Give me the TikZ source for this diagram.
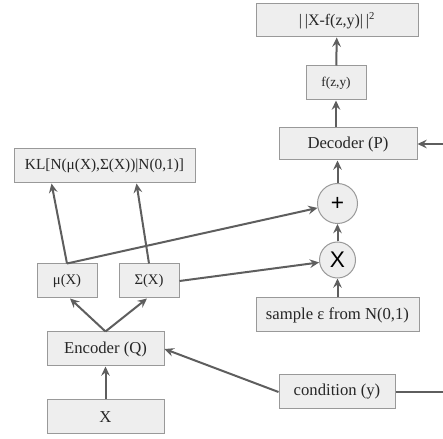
\documentclass[tikz,border=0pt]{standalone}
\usepackage{fontspec}
\setmainfont{Liberation Serif}
\newfontfamily\opfont{Liberation Sans}
\usetikzlibrary{arrows.meta,calc}
\definecolor{boxfill}{HTML}{EEEEEE}
\definecolor{boxline}{HTML}{999999}
\definecolor{arrowgray}{HTML}{5E5E5E}
\tikzset{
  blockbox/.style={rectangle,draw=boxline,fill=boxfill,line width=0.75pt,inner sep=0pt,minimum height=25.5pt,text=black!85,font=\fontsize{12.5}{14}\selectfont},
  smallbox/.style={blockbox,font=\fontsize{11}{13}\selectfont},
  opcircle/.style={circle,draw=boxline,fill=boxfill,line width=0.75pt,inner sep=0pt,font=\opfont\fontsize{17}{18}\selectfont},
  link/.style={draw=arrowgray,line width=1.5pt,-{Stealth[length=7pt,width=6.5pt,inset=2.5pt]}},
  nolink/.style={draw=arrowgray,line width=1.5pt}
}
\begin{document}
\begin{tikzpicture}[x=0.75pt,y=0.75pt]
\useasboundingbox (0,0) rectangle (443,439);
\node[smallbox,minimum width=121.5pt,minimum height=24.75pt,font=\fontsize{12}{14}\selectfont] (loss) at (337,418.5) {|\,|X-f(z,y)|\,|\textsuperscript{2}};
\node[smallbox,minimum width=45pt,font=\fontsize{10}{12}\selectfont] (fzy) at (336,356) {f(z,y)};
\node[blockbox,minimum width=103.5pt,minimum height=24pt] (dec) at (348,295) {Decoder (P)};
\node[opcircle,minimum size=30pt] (plus) at (337.5,235.5) {+};
\node[opcircle,minimum size=27pt] (times) at (337.5,179) {X};
\node[blockbox,minimum width=122.25pt] (samp) at (337.5,124) {sample ε from N(0,1)};
\node[blockbox,minimum width=87pt] (cond) at (337,47) {condition (y)};
\node[blockbox,minimum width=135.75pt,font=\fontsize{11.5}{13}\selectfont] (kl) at (104.5,273) {KL[N(μ(X),Σ(X))|N(0,1)]};
\node[smallbox,minimum width=45pt] (mu) at (67,158) {μ(X)};
\node[smallbox,minimum width=45pt] (sig) at (149,158) {Σ(X)};
\node[blockbox,minimum width=87.75pt] (enc) at (105.5,90) {Encoder (Q)};
\node[blockbox,minimum width=87.75pt] (xin) at (105.5,22) {X};
\coordinate (edgecond) at (443,47);
\coordinate (edgedec) at (443,295);
\draw[link] (xin) -- (enc);
\draw[link] (enc.north) -- ($(mu.south)+(3,0)$);
\draw[link] (enc.north) -- ($(sig.south)+(-2,0)$);
\draw[link] (mu.north) -- ($(kl.south west)+(38,0)$);
\draw[link] (sig.north) -- ($(kl.south west)+(123,0)$);
\draw[link] (mu.north) -- (plus);
\draw[link] (sig.east) -- (times);
\draw[link] (samp) -- (times);
\draw[link] (times) -- (plus);
\draw[link] (plus.north) -- (plus.north |- dec.south);
\draw[link] (fzy.south |- dec.north) -- (fzy);
\draw[link] (fzy) -- (loss);
\draw[link] (cond.west) -- (enc.east);
\draw[nolink] (cond.east) -- (edgecond);
\draw[link] (edgedec) -- (dec.east);
\end{tikzpicture}
\end{document}
